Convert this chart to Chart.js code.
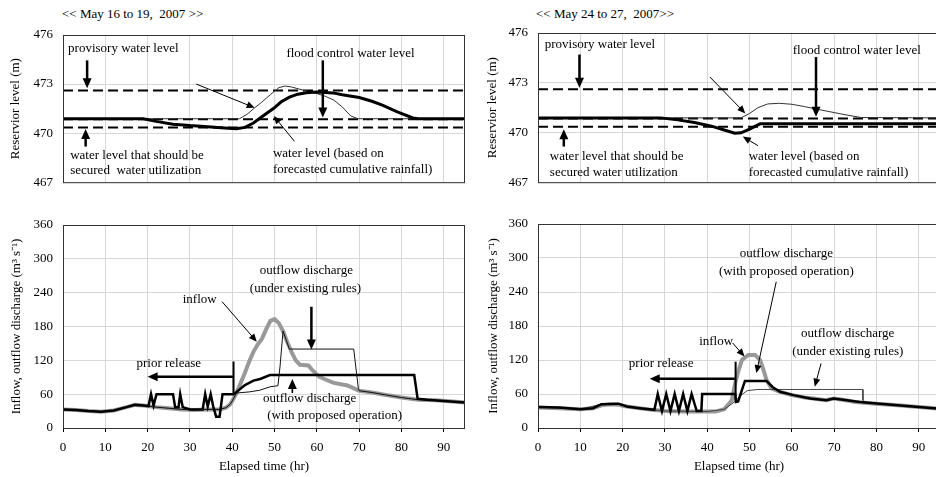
<!DOCTYPE html>
<html>
<head>
<meta charset="utf-8">
<script src="https://cdn.jsdelivr.net/npm/chart.js@4.4.0/dist/chart.umd.min.js"></script>
<style>
  html, body { margin: 0; padding: 0; background: #fff; overflow: hidden; }
  body { width: 936px; height: 477px; position: relative; }
  canvas { position: absolute; }
  .period { position: absolute; font: 13px "Liberation Serif", serif; color: #000; white-space: pre; }
</style>
</head>
<body>
<div class="period" style="left:62px; top:6px;">&lt;&lt; May 16 to 19,  2007 &gt;&gt;</div>
<div class="period" style="left:536px; top:6px;">&lt;&lt; May 24 to 27,  2007&gt;&gt;</div>
<canvas id="levelA" width="468" height="200" style="left:0; top:0;"></canvas>
<canvas id="flowA" width="468" height="277" style="left:0; top:200px;"></canvas>
<canvas id="levelB" width="475" height="200" style="left:468px; top:0;"></canvas>
<canvas id="flowB" width="475" height="277" style="left:468px; top:200px;"></canvas>
<script>
/* reservoir level + inflow/outflow, two events (May 2007)
   all series are [elapsed hr, value] pairs */

// reference levels (m)
const provisoryLevel = 472.6;
const floodControlLevel = 470.85;
const securedLevel = 470.35;

const levelTicks = [467, 470, 473, 476];
const flowTicks = [0, 60, 120, 180, 240, 300, 360];
const timeTicks = [0, 10, 20, 30, 40, 50, 60, 70, 80, 90];

// May 16 to 19 : water level
const levelForecastA = [[0,470.88],[19,470.88],[22,470.72],[26,470.55],[30,470.46],[35,470.38],[39,470.3],[41,470.27],[43,470.35],[45,470.62],[47,471.0],[49.8,471.52],[51.5,471.9],[53.5,472.2],[55.5,472.38],[57.5,472.47],[60,472.52],[63.8,472.46],[66,472.35],[70,472.18],[73,471.95],[75.6,471.7],[79,471.3],[82.7,470.93],[84,470.88],[95,470.88]];
const levelExistingA = [[0,470.88],[41.7,470.88],[43.5,471.15],[45.3,471.55],[47,471.9],[49,472.35],[51,472.78],[52.5,472.88],[54,472.82],[56,472.68],[58,472.55],[60,472.42],[62,472.25],[64,472.02],[66,471.6],[68,471.05],[69.7,470.88],[95,470.88]];

// May 24 to 27 : water level
const levelForecastB = [[0,470.88],[29,470.88],[33,470.76],[37,470.6],[41,470.38],[44,470.15],[46.5,469.95],[48,469.98],[50,470.2],[52.5,470.52],[95,470.52]];
const levelExistingB = [[0,470.88],[48,470.88],[50,471.15],[52,471.5],[54.3,471.72],[57,471.76],[60,471.7],[63,471.56],[66,471.4],[70,471.2],[73,471.05],[76.4,470.9],[95,470.88]];

// May 16 to 19 : discharge (m3/s)
const inflowA = [[0,33],[3,32],[6,30],[9,29],[12,31],[15,37],[17,41],[19,40],[22,37],[25,35],[28,33],[31,32],[34,33],[37,33],[38.5,36],[39.5,42],[40,48],[41,62],[42,80],[43,98],[44,118],[45,135],[46,148],[47,158],[48,175],[49,190],[50,193],[51,186],[52,172],[53,152],[54,135],[55,120],[56,112],[58,111],[59,102],[60.5,91],[62,86],[64,80],[66,77],[67,76],[68,73],[70,66],[73,63],[76,59],[80,54],[84,50],[88,49],[92,47],[95,45]];
const outflowProposedA = [[0,33],[3,32],[6,30],[9,29],[12,31],[15,37],[17,41],[19,40],[20.2,39],[20.8,60],[21.4,40],[22.1,60],[26,60],[26.5,37],[27.3,37],[27.7,60],[28.3,37],[30,33],[33,33],[33.6,60],[34.2,38],[34.9,60],[35.5,38],[36.2,20],[37,20],[37.7,60],[40.3,60],[41,64],[43,76],[45,84],[46.6,87],[48.9,94],[83,94],[83.8,52],[86,50],[90,48],[95,45]];
const outflowExistingA = [[0,33],[3,32],[6,30],[9,29],[12,31],[15,37],[17,41],[19,40],[22,37],[25,35],[28,33],[31,32],[34,33],[37,33],[38.5,36],[39.5,42],[40,48],[41,62],[44,64],[46.5,67],[48.9,73],[50.8,75],[51.3,110],[52,172],[53.5,140],[68.7,140],[69.8,70],[70,66],[73,63],[76,59],[80,54],[84,50],[88,49],[92,47],[95,45]];

// May 24 to 27 : discharge (m3/s)
const inflowB = [[0,36],[5,35],[10,33],[13,35],[15,40],[17,42],[19,41],[21,38],[24,35],[27,32],[30,30],[35,29],[40,29],[42,29],[44,33],[45.8,49],[46.6,79],[47.4,102],[48.2,120],[49.7,129],[51.3,129],[52.5,120],[53.3,102],[54,85],[55.2,70],[57,64],[60,58],[63,54],[65,52],[68,49],[70,52],[72,50],[75,46],[80,43],[85,40],[90,37],[95,34]];
const outflowProposedB = [[0,37],[5,36],[10,33],[13,35],[15,42],[19,43],[21,38],[24,35],[27.5,32],[28.3,60],[29.3,30],[30.3,60],[31.3,30],[32.3,60],[33.3,30],[34.3,60],[35.3,30],[36.3,60],[37.5,30],[38.6,30],[38.8,60],[46.6,60],[46.8,46],[47.3,47],[48.9,83],[54,83],[55.5,72],[57.2,64],[60.4,58],[64.3,52],[68.2,49],[69.8,52],[72.1,50],[76,46],[80.7,43],[85,40],[90,37],[95,34]];
const outflowExistingB = [[0,37],[10,33],[15,42],[19,43],[21,38],[27,32],[30,30],[40,29],[44,33],[46.6,47],[48,58],[49.5,66],[52,68],[76.7,68],[76.8,49],[77,46],[80.7,43],[85,40],[90,37],[95,34]];

const FONT = '"Liberation Serif", "Times New Roman", serif';
Chart.defaults.font.family = FONT;
Chart.defaults.font.size = 13;
Chart.defaults.color = '#000';

function drawArrow(ctx, x1, y1, x2, y2, width, head) {
    ctx.strokeStyle = '#000';
    ctx.fillStyle = '#000';
    ctx.lineWidth = width;
    const ang = Math.atan2(y2 - y1, x2 - x1);
    const len = head ? (width > 1.5 ? 10 : 8) : 0;
    const half = width > 1.5 ? 4.5 : 3.5;
    ctx.beginPath();
    ctx.moveTo(x1, y1);
    ctx.lineTo(x2 - Math.cos(ang) * len * 0.8, y2 - Math.sin(ang) * len * 0.8);
    ctx.stroke();
    if (!head) return;
    ctx.beginPath();
    ctx.moveTo(x2, y2);
    ctx.lineTo(x2 - Math.cos(ang) * len - Math.sin(ang) * half, y2 - Math.sin(ang) * len + Math.cos(ang) * half);
    ctx.lineTo(x2 - Math.cos(ang) * len + Math.sin(ang) * half, y2 - Math.sin(ang) * len - Math.cos(ang) * half);
    ctx.closePath();
    ctx.fill();
}

// labels + arrows, given in data units
const notesPlugin = {
    id: 'notes',
    afterDatasetsDraw(chart, args, opts) {
        const ctx = chart.ctx;
        const sx = chart.scales.x;
        const sy = chart.scales.y;
        const area = chart.chartArea;
        ctx.save();
        ctx.strokeStyle = '#333';
        ctx.lineWidth = 1;
        ctx.strokeRect(area.left + 0.5, area.top + 0.5, area.right - area.left - 1, area.bottom - area.top);
        (opts.arrows || []).forEach((a) => {
            drawArrow(ctx, sx.getPixelForValue(a.from[0]), sy.getPixelForValue(a.from[1]),
                sx.getPixelForValue(a.to[0]), sy.getPixelForValue(a.to[1]), a.width, a.head !== false);
        });
        ctx.font = '13px ' + FONT;
        ctx.fillStyle = '#000';
        ctx.textBaseline = 'middle';
        (opts.texts || []).forEach((t) => {
            ctx.textAlign = t.align || 'left';
            ctx.fillText(t.text, sx.getPixelForValue(t.at[0]), sy.getPixelForValue(t.at[1]));
        });
        ctx.restore();
    }
};

function lineSet(data, color, width, dash) {
    return { data: data, borderColor: color, borderWidth: width, borderDash: dash || [], pointRadius: 0, fill: false, tension: 0 };
}

function levelLine(level) {
    return lineSet([[0, level], [95, level]], '#000', 2, [10, 5]);
}

function makePanel(id, p) {
    return new Chart(document.getElementById(id), {
        type: 'line',
        data: { datasets: p.datasets },
        options: {
            responsive: false,
            animation: false,
            events: [],
            layout: { padding: { top: p.top, right: 3, left: 0, bottom: 0 } },
            plugins: { legend: { display: false }, tooltip: { enabled: false }, notes: p.notes },
            scales: {
                x: {
                    type: 'linear', min: 0, max: 95,
                    afterBuildTicks: (axis) => { axis.ticks = timeTicks.map(v => ({ value: v })); },
                    ticks: { display: p.xLabels, padding: 8, maxRotation: 0 },
                    grid: { color: '#d8d8d8', tickColor: '#000', tickLength: 4, drawTicks: p.xLabels },
                    border: { display: false },
                    title: { display: p.xLabels, text: 'Elapsed time (hr)', padding: { top: 0, bottom: 3 } },
                    afterFit: (axis) => { axis.height = p.xHeight; }
                },
                y: {
                    type: 'linear', min: p.yTicks[0], max: p.yTicks[p.yTicks.length - 1],
                    afterBuildTicks: (axis) => { axis.ticks = p.yTicks.map(v => ({ value: v })); },
                    ticks: { padding: 10 },
                    grid: { color: '#d8d8d8', drawTicks: false },
                    border: { display: false },
                    title: { display: true, text: p.yTitle, padding: { top: p.yTitlePad, bottom: 0 } },
                    afterFit: (axis) => { axis.width = p.yWidth; }
                }
            }
        },
        plugins: [notesPlugin]
    });
}

function mainEvent() {
    makePanel('levelA', {
        top: 35, xHeight: 8, yWidth: 63, yTitlePad: 8, xLabels: false,
        yTicks: levelTicks, yTitle: 'Reservior level (m)',
        datasets: [
            lineSet(levelForecastA, '#000', 3),
            lineSet(levelExistingA, '#333', 1),
            levelLine(provisoryLevel), levelLine(floodControlLevel), levelLine(securedLevel)
        ],
        notes: {
            texts: [
                { text: 'provisory water level', at: [1.2, 475.15] },
                { text: 'flood control water level', at: [52.8, 474.85] },
                { text: 'water level that should be', at: [1.7, 468.64] },
                { text: 'secured  water utilization', at: [1.7, 467.69] },
                { text: 'water level (based on', at: [49.6, 468.78] },
                { text: 'forecasted cumulative rainfall)', at: [49.6, 467.78] }
            ],
            arrows: [
                { from: [5.7, 474.45], to: [5.7, 472.75], width: 2.5 },
                { from: [61.4, 474.45], to: [61.4, 470.95], width: 2.5 },
                { from: [31.5, 473.0], to: [45.3, 471.55], width: 1 },
                { from: [54.7, 469.5], to: [49.8, 471.05], width: 1 },
                { from: [5.35, 469.18], to: [5.35, 470.25], width: 2.5 }
            ]
        }
    });

    makePanel('levelB', {
        top: 33, xHeight: 10, yWidth: 70, yTitlePad: 17, xLabels: false,
        yTicks: levelTicks, yTitle: 'Reservior level (m)',
        datasets: [
            lineSet(levelForecastB, '#000', 3),
            lineSet(levelExistingB, '#333', 1),
            levelLine(provisoryLevel), levelLine(floodControlLevel), levelLine(securedLevel)
        ],
        notes: {
            texts: [
                { text: 'provisory water level', at: [1.6, 475.33] },
                { text: 'flood control water level', at: [60.2, 474.94] },
                { text: 'water level that should be', at: [2.8, 468.53] },
                { text: 'secured water utilization', at: [2.8, 467.61] },
                { text: 'water level (based on', at: [49.8, 468.53] },
                { text: 'forecasted cumulative rainfall)', at: [49.8, 467.61] }
            ],
            arrows: [
                { from: [9.8, 474.7], to: [9.8, 472.7], width: 2.5 },
                { from: [65.7, 474.55], to: [65.7, 470.95], width: 2.5 },
                { from: [40.6, 473.35], to: [49.0, 471.15], width: 1 },
                { from: [52.0, 469.2], to: [48.4, 469.75], width: 1 },
                { from: [6.1, 469.15], to: [6.1, 470.2], width: 2.5 }
            ]
        }
    });

    makePanel('flowA', {
        top: 25, xHeight: 49, yWidth: 63, yTitlePad: 9, xLabels: true,
        yTicks: flowTicks, yTitle: 'Inflow, outflow discharge (m\u00B3 s\u207B\u00B9)',
        datasets: [
            lineSet(outflowProposedA, '#000', 2.5),
            lineSet(outflowExistingA, '#111', 1),
            lineSet(inflowA, '#999', 4)
        ],
        notes: {
            texts: [
                { text: 'inflow', at: [32.3, 228], align: 'center' },
                { text: 'outflow discharge', at: [57.5, 280], align: 'center' },
                { text: '(under existing rules)', at: [57.3, 248], align: 'center' },
                { text: 'prior release', at: [25, 115], align: 'center' },
                { text: 'outflow discharge', at: [58.3, 52.6], align: 'center' },
                { text: '(with proposed operation)', at: [64.2, 21.3], align: 'center' }
            ],
            arrows: [
                { from: [37.6, 224], to: [45.8, 153], width: 1 },
                { from: [58.7, 215], to: [58.7, 139], width: 2.5 },
                { from: [40.2, 91], to: [20, 91], width: 2.5 },
                { from: [40.3, 118], to: [40.3, 60], width: 2, head: false },
                { from: [54.2, 62], to: [54.2, 87], width: 1.6 }
            ]
        }
    });

    makePanel('flowB', {
        top: 24, xHeight: 49, yWidth: 70, yTitlePad: 18, xLabels: true,
        yTicks: flowTicks, yTitle: 'Inflow, outflow discharge (m\u00B3 s\u207B\u00B9)',
        datasets: [
            lineSet(outflowProposedB, '#000', 2.5),
            lineSet(outflowExistingB, '#444', 1),
            lineSet(inflowB, '#999', 4)
        ],
        notes: {
            texts: [
                { text: 'outflow discharge', at: [58.7, 308], align: 'center' },
                { text: '(with proposed operation)', at: [58.7, 276], align: 'center' },
                { text: 'inflow', at: [42.1, 152], align: 'center' },
                { text: 'outflow discharge', at: [73.2, 167], align: 'center' },
                { text: '(under existing rules)', at: [73.2, 135], align: 'center' },
                { text: 'prior release', at: [29.1, 114], align: 'center' }
            ],
            arrows: [
                { from: [56.3, 258], to: [51.6, 97], width: 1 },
                { from: [46, 150], to: [48.8, 126], width: 1 },
                { from: [66.9, 114], to: [65.4, 73], width: 1 },
                { from: [46.5, 87], to: [26.4, 87], width: 2.5 },
                { from: [46.7, 117], to: [46.7, 47], width: 2, head: false }
            ]
        }
    });
}

document.addEventListener('DOMContentLoaded', () => mainEvent());
</script>
</body>
</html>
